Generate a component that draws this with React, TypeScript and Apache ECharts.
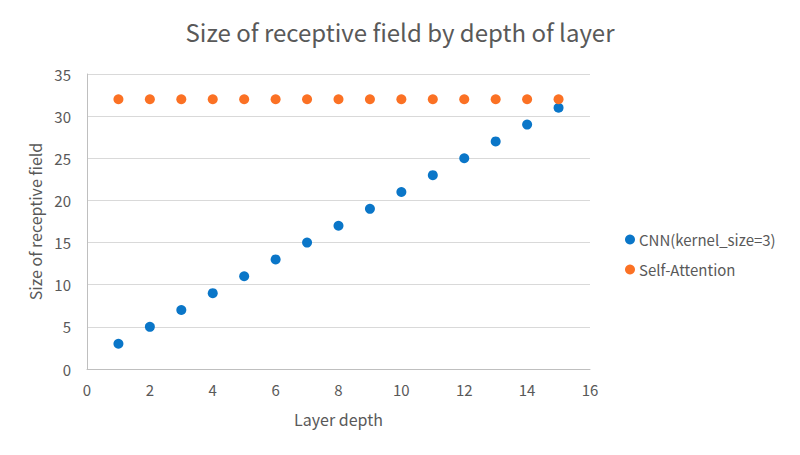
import React, { useEffect, useRef } from "react";
import * as echarts from "echarts";

const layerDepth = [1, 2, 3, 4, 5, 6, 7, 8, 9, 10, 11, 12, 13, 14, 15];
const cnnValues = [3, 5, 7, 9, 11, 13, 15, 17, 19, 21, 23, 25, 27, 29, 31];
const attentionValues = [32, 32, 32, 32, 32, 32, 32, 32, 32, 32, 32, 32, 32, 32, 32];
const seriesNames = ["CNN(kernel_size=3)", "Self-Attention"];

const FONT = "'Noto Sans CJK JP', 'Noto Sans', sans-serif";
const TEXT = "#595959";

export default function App() {
  const ref = useRef<HTMLDivElement>(null);
  useEffect(() => {
    if (!ref.current) return;
    const chart = echarts.init(ref.current, undefined, { renderer: "svg" });
    chart.setOption({
      animation: false,
      backgroundColor: "#ffffff",
      textStyle: { fontFamily: FONT },
      title: {
        text: "Size of receptive field by depth of layer",
        left: "center",
        top: 14,
        textStyle: { fontFamily: FONT, fontSize: 24, fontWeight: "normal", color: TEXT },
      },
      grid: { left: 87, right: 210, top: 74, bottom: 86, containLabel: false },
      legend: {
        orient: "vertical",
        left: 620,
        top: 227,
        itemGap: 15,
        itemWidth: 10,
        itemHeight: 10,
        icon: "circle",
        textStyle: { fontFamily: FONT, fontSize: 15, color: TEXT, padding: [0, 0, 0, -1] },
        data: seriesNames,
      },
      xAxis: {
        type: "value",
        min: 0,
        max: 16,
        interval: 2,
        name: "Layer depth",
        nameLocation: "middle",
        nameGap: 42,
        nameTextStyle: { fontFamily: FONT, fontSize: 16, color: TEXT },
        axisLine: { show: true, onZero: false, lineStyle: { color: "#bfbfbf", width: 1 } },
        axisTick: { show: false },
        axisLabel: { fontFamily: FONT, fontSize: 15, color: TEXT, margin: 13 },
        splitLine: { show: false },
      },
      yAxis: {
        type: "value",
        min: 0,
        max: 35,
        interval: 5,
        name: "Size of receptive field",
        nameLocation: "middle",
        nameGap: 44,
        nameTextStyle: { fontFamily: FONT, fontSize: 16, color: TEXT },
        axisLine: { show: true, lineStyle: { color: "#bfbfbf", width: 1 } },
        axisTick: { show: false },
        axisLabel: { fontFamily: FONT, fontSize: 15, color: TEXT, margin: 16 },
        splitLine: { show: true, lineStyle: { color: "#d9d9d9", width: 1 } },
      },
      series: [
        {
          name: seriesNames[0],
          type: "scatter",
          symbol: "circle",
          symbolSize: 10,
          itemStyle: { color: "#0a76c8", opacity: 1 },
          data: layerDepth.map((x, i) => [x, cnnValues[i]]),
          z: 2,
        },
        {
          name: seriesNames[1],
          type: "scatter",
          symbol: "circle",
          symbolSize: 10,
          itemStyle: { color: "#fb7124", opacity: 1 },
          data: layerDepth.map((x, i) => [x, attentionValues[i]]),
          z: 3,
        },
      ],
    });
    return () => chart.dispose();
  }, []);
  return (
    <div
      ref={ref}
      style={{ position: "absolute", left: 0, top: 0, width: 800, height: 455 }}
    />
  );
}
